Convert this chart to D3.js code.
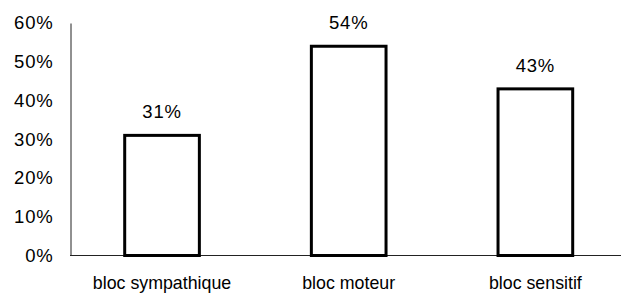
<!DOCTYPE html>
<html>
<head>
<meta charset="utf-8">
<script src="https://cdn.jsdelivr.net/npm/d3@7"></script>
<style>
  body { margin: 0; background: #fff; }
  text { font-family: "Liberation Sans", Arial, sans-serif; fill: #000; }
</style>
</head>
<body>
<div id="chart"></div>
<script>
var categories = ["bloc sympathique", "bloc moteur", "bloc sensitif"];
var values = [0.31, 0.54, 0.43];
var yTicks = [0, 0.1, 0.2, 0.3, 0.4, 0.5, 0.6];

var width = 621, height = 293;
var svg = d3.select("#chart")
            .append("svg")
            .attr("width", width)
            .attr("height", height);

var x = d3.scaleBand()
          .domain(categories)
          .range([68.7, 628.7])
          .paddingInner(0.6)
          .paddingOuter(0.3);

var y = d3.scaleLinear()
          .domain([0, 0.6])
          .range([255.5, 23]);

var fmt = d3.format(".0%");

// y axis
var yAxis = d3.axisLeft(y).tickValues(yTicks).tickFormat(fmt).tickSize(0).tickPadding(17);
var ga = svg.append("g")
            .attr("transform", "translate(70.5,0)")
            .call(yAxis);
ga.select(".domain").attr("stroke", "#222");
ga.selectAll("text")
  .attr("font-size", "18.5px")
  .attr("letter-spacing", "0.8px")
  .attr("font-family", "Liberation Sans, Arial, sans-serif")
  .attr("fill", "#000");

// x baseline
svg.append("line")
   .attr("x1", 70).attr("x2", width)
   .attr("y1", y(0)).attr("y2", y(0))
   .attr("stroke", "#222");

// bars
svg.selectAll("rect.bar")
   .data(values)
   .enter()
   .append("rect")
   .attr("class", "bar")
   .attr("x", (d, i) => x(categories[i]))
   .attr("width", x.bandwidth())
   .attr("y", d => y(d))
   .attr("height", d => y(0) - y(d))
   .attr("fill", "#fff")
   .attr("stroke", "#000")
   .attr("stroke-width", 3);

// value labels
svg.selectAll("text.val")
   .data(values)
   .enter()
   .append("text")
   .attr("class", "val")
   .attr("x", (d, i) => x(categories[i]) + x.bandwidth() / 2)
   .attr("y", d => y(d) - 17)
   .attr("text-anchor", "middle")
   .attr("font-size", "18.5px")
   .attr("letter-spacing", "0.8px")
   .text(d => fmt(d));

// category labels
svg.selectAll("text.cat")
   .data(categories)
   .enter()
   .append("text")
   .attr("class", "cat")
   .attr("x", d => x(d) + x.bandwidth() / 2)
   .attr("y", 288.5)
   .attr("text-anchor", "middle")
   .attr("font-size", "17.8px")
   .text(d => d);
</script>
</body>
</html>
